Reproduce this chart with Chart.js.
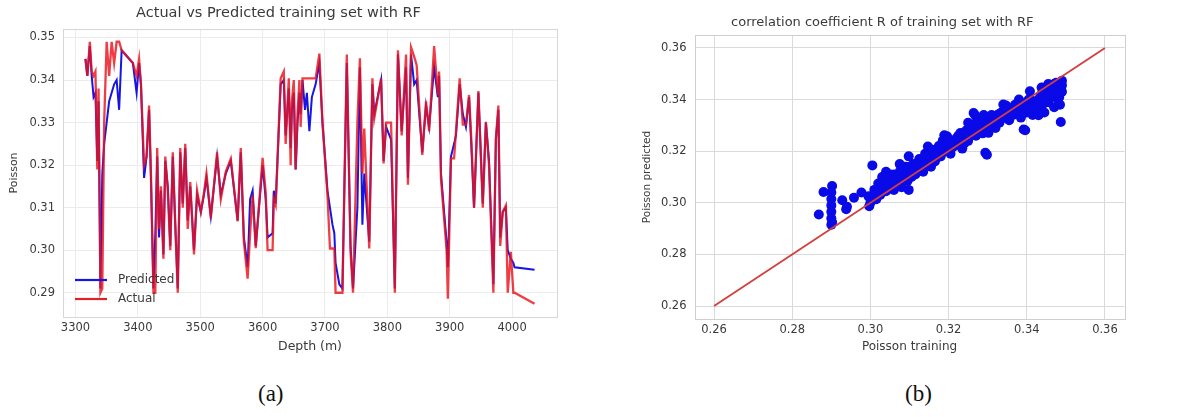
<!DOCTYPE html>
<html>
<head>
<meta charset="utf-8">
<script src="https://cdn.jsdelivr.net/npm/chart.js@4.4.1/dist/chart.umd.min.js"></script>
<style>
    body { margin: 0; background: #fff; width: 1179px; height: 417px; overflow: hidden; position: relative; }
    canvas { position: absolute; top: 0; }
    #left { left: 0; }
    #right { left: 600px; }
    .cap { position: absolute; top: 381px; font-family: "Liberation Serif", "Times New Roman", serif; font-size: 23px; color: #111; }
</style>
</head>
<body>
<canvas id="left" width="580" height="360"></canvas>
<canvas id="right" width="579" height="360"></canvas>
<div class="cap" style="left:258px">(a)</div>
<div class="cap" style="left:905px">(b)</div>
<script>
// depth (m) and Poisson values
const depth = [3316, 3319, 3323, 3326, 3329, 3332, 3335, 3337, 3340, 3343, 3346, 3350, 3354, 3358, 3362, 3366, 3370, 3374, 3392, 3398,
    3402, 3405, 3410, 3414, 3418, 3421, 3425, 3428, 3431, 3434, 3437, 3441, 3444, 3448, 3452, 3456, 3460, 3464, 3468, 3472,
    3476, 3480, 3484, 3490, 3495, 3501, 3506, 3510, 3517, 3527, 3533, 3541, 3549, 3560, 3565, 3570, 3576, 3580, 3584, 3589,
    3600, 3605, 3608, 3616, 3618, 3621, 3629, 3634, 3637, 3642, 3645, 3647, 3650, 3653, 3656, 3659, 3661, 3664, 3668, 3671,
    3675, 3679, 3685, 3691, 3696, 3704, 3708, 3712, 3715, 3717, 3723, 3728, 3735, 3741, 3745, 3752, 3756, 3760, 3763, 3771,
    3776, 3779, 3790, 3794, 3798, 3806, 3812, 3817, 3823, 3830, 3833, 3838, 3843, 3847, 3856, 3862, 3867, 3875, 3881, 3883,
    3886, 3891, 3895, 3897, 3902, 3907, 3910, 3916, 3921, 3926, 3931, 3935, 3939, 3946, 3953, 3958, 3963, 3970, 3974, 3978,
    3981, 3985, 3990, 3993, 3998, 4002, 4004, 4036];
const actual = [0.345, 0.341, 0.349, 0.342, 0.341, 0.342, 0.319, 0.338, 0.290, 0.291, 0.330, 0.349, 0.341, 0.349, 0.344, 0.349, 0.349, 0.347, 0.344, 0.341,
    0.345, 0.339, 0.320, 0.322, 0.334, 0.318, 0.290, 0.290, 0.324, 0.305, 0.315, 0.298, 0.322, 0.314, 0.300, 0.323, 0.306, 0.290, 0.324, 0.310,
    0.325, 0.305, 0.316, 0.299, 0.314, 0.309, 0.3135, 0.318, 0.3075, 0.323, 0.312, 0.3185, 0.3215, 0.3068, 0.324, 0.302, 0.2933, 0.304, 0.313, 0.3005,
    0.3217, 0.3135, 0.300, 0.300, 0.312, 0.3106, 0.3404, 0.342, 0.325, 0.3404, 0.320, 0.335, 0.340, 0.319, 0.332, 0.340, 0.329, 0.3404, 0.3404, 0.3404,
    0.3404, 0.3404, 0.3404, 0.3462, 0.330, 0.313, 0.3004, 0.3004, 0.3004, 0.290, 0.290, 0.290, 0.346, 0.2996, 0.290, 0.330, 0.3451, 0.318, 0.3286, 0.3004,
    0.3404, 0.331, 0.3404, 0.3204, 0.330, 0.330, 0.290, 0.347, 0.327, 0.346, 0.3154, 0.3477, 0.3455, 0.3435, 0.3224, 0.335, 0.328, 0.348, 0.3365, 0.342,
    0.3168, 0.3075, 0.300, 0.2886, 0.3216, 0.3216, 0.3278, 0.3404, 0.3295, 0.3295, 0.3365, 0.325, 0.310, 0.3374, 0.310, 0.3302, 0.320, 0.290, 0.3263, 0.334,
    0.301, 0.309, 0.3105, 0.290, 0.2996, 0.290, 0.290, 0.2874];
const predicted = [0.345, 0.341, 0.348, 0.341, 0.336, 0.337, 0.321, 0.335, 0.291, 0.318, 0.325, 0.330, 0.335, 0.337, 0.339, 0.340, 0.333, 0.347, 0.344, 0.337,
    0.344, 0.339, 0.317, 0.322, 0.333, 0.317, 0.291, 0.304, 0.322, 0.303, 0.314, 0.299, 0.321, 0.315, 0.301, 0.322, 0.306, 0.291, 0.323, 0.311,
    0.324, 0.307, 0.315, 0.300, 0.313, 0.309, 0.313, 0.317, 0.308, 0.322, 0.313, 0.318, 0.321, 0.307, 0.323, 0.303, 0.296, 0.312, 0.314, 0.301,
    0.320, 0.312, 0.303, 0.304, 0.314, 0.311, 0.339, 0.340, 0.327, 0.338, 0.324, 0.333, 0.337, 0.319, 0.330, 0.337, 0.332, 0.340, 0.333, 0.337,
    0.328, 0.336, 0.339, 0.344, 0.330, 0.314, 0.310, 0.306, 0.304, 0.297, 0.292, 0.291, 0.344, 0.301, 0.291, 0.310, 0.343, 0.306, 0.318, 0.302,
    0.339, 0.332, 0.340, 0.321, 0.329, 0.326, 0.291, 0.346, 0.328, 0.343, 0.317, 0.346, 0.339, 0.340, 0.323, 0.334, 0.329, 0.343, 0.336, 0.341,
    0.318, 0.309, 0.302, 0.296, 0.322, 0.325, 0.327, 0.339, 0.332, 0.329, 0.336, 0.3235, 0.310, 0.337, 0.311, 0.330, 0.321, 0.292, 0.326, 0.333,
    0.303, 0.309, 0.310, 0.300, 0.298, 0.297, 0.296, 0.2954];
const depthTicks = [3300, 3400, 3500, 3600, 3700, 3800, 3900, 4000];
const poissonTicks = [0.29, 0.30, 0.31, 0.32, 0.33, 0.34, 0.35];

// panel (b): training value vs predicted value
const trainX = [0.2868, 0.2880, 0.2902, 0.2900, 0.2900, 0.2900, 0.2900, 0.2900, 0.2900, 0.2902,
    0.2928, 0.2938, 0.2940, 0.2958, 0.2977, 0.2997, 0.3000, 0.2995, 0.3005, 0.3010,
    0.3015, 0.3020, 0.3025, 0.3030, 0.3035, 0.3040, 0.3045, 0.3050, 0.3055, 0.3060,
    0.3065, 0.3070, 0.3075, 0.3080, 0.3085, 0.3090, 0.3095, 0.3098, 0.3098, 0.3100,
    0.3105, 0.3110, 0.3115, 0.3121, 0.3125, 0.3130, 0.3135, 0.3140, 0.3147, 0.3150,
    0.3155, 0.3158, 0.3160, 0.3165, 0.3170, 0.3175, 0.3180, 0.3185, 0.3189, 0.3190,
    0.3196, 0.3200, 0.3205, 0.3210, 0.3215, 0.3219, 0.3225, 0.3230, 0.3235, 0.3240,
    0.3245, 0.3250, 0.3255, 0.3260, 0.3264, 0.3268, 0.3270, 0.3275, 0.3280, 0.3287,
    0.3290, 0.3294, 0.3298, 0.3300, 0.3302, 0.3310, 0.3315, 0.3320, 0.3325, 0.3330,
    0.3335, 0.3340, 0.3345, 0.3347, 0.3350, 0.3355, 0.3360, 0.3365, 0.3370, 0.3375,
    0.3380, 0.3385, 0.3390, 0.3392, 0.3396, 0.3400, 0.3405, 0.3408, 0.3410, 0.3415,
    0.3420, 0.3425, 0.3430, 0.3435, 0.3438, 0.3440, 0.3445, 0.3450, 0.3455, 0.3460,
    0.3465, 0.3470, 0.3475, 0.3480, 0.3483, 0.3483, 0.3487, 0.3487, 0.3490, 0.3490, 0.3485,
    0.3010, 0.3020, 0.3040, 0.3050, 0.3060, 0.3070, 0.3080, 0.3090, 0.3100, 0.3110,
    0.3120, 0.3130, 0.3140, 0.3150, 0.3160, 0.3170, 0.3180, 0.3190, 0.3200, 0.3210,
    0.3220, 0.3230, 0.3240, 0.3250, 0.3260, 0.3270, 0.3280, 0.3290, 0.3300, 0.3310,
    0.3320, 0.3330, 0.3340, 0.3350, 0.3360, 0.3370, 0.3380, 0.3390, 0.3400, 0.3410,
    0.3420, 0.3430, 0.3440, 0.3450, 0.3460, 0.3470, 0.3480, 0.3490, 0.3475, 0.3455,
    0.3040, 0.3075, 0.3250, 0.3290];
const predY = [0.2955, 0.3042, 0.3065, 0.3040, 0.3015, 0.2990, 0.2965, 0.2940, 0.2915, 0.2925,
    0.3010, 0.2975, 0.2985, 0.3020, 0.3040, 0.2987, 0.3000, 0.3025, 0.3145, 0.3050,
    0.3014, 0.3075, 0.3030, 0.3100, 0.3060, 0.3045, 0.3085, 0.3110, 0.3070, 0.3050,
    0.3095, 0.3080, 0.3120, 0.3060, 0.3100, 0.3140, 0.3085, 0.3180, 0.3050, 0.3120,
    0.3100, 0.3150, 0.3110, 0.3129, 0.3170, 0.3140, 0.3120, 0.3190, 0.3218, 0.3160,
    0.3140, 0.3206, 0.3180, 0.3160, 0.3200, 0.3220, 0.3180, 0.3240, 0.3262, 0.3200,
    0.3258, 0.3220, 0.3190, 0.3240, 0.3220, 0.3232, 0.3260, 0.3230, 0.3210, 0.3250,
    0.3280, 0.3240, 0.3270, 0.3300, 0.3348, 0.3339, 0.3260, 0.3290, 0.3310, 0.3269,
    0.3300, 0.3194, 0.3186, 0.3320, 0.3271, 0.3300, 0.3330, 0.3290, 0.3340, 0.3310,
    0.3350, 0.3381, 0.3330, 0.3377, 0.3350, 0.3320, 0.3360, 0.3340, 0.3380, 0.3350,
    0.3400, 0.3330, 0.3370, 0.3284, 0.3281, 0.3350, 0.3400, 0.3432, 0.3370, 0.3340,
    0.3390, 0.3360, 0.3339, 0.3410, 0.3447, 0.3380, 0.3350, 0.3420, 0.3390, 0.3450,
    0.3410, 0.3370, 0.3440, 0.3400, 0.3460, 0.3409, 0.3313, 0.3465, 0.3473, 0.3430, 0.3380,
    0.3030, 0.3055, 0.3070, 0.3090, 0.3110, 0.3065, 0.3095, 0.3110, 0.3140, 0.3125,
    0.3155, 0.3165, 0.3150, 0.3185, 0.3200, 0.3175, 0.3215, 0.3230, 0.3245, 0.3215,
    0.3250, 0.3270, 0.3230, 0.3265, 0.3280, 0.3310, 0.3285, 0.3325, 0.3295, 0.3340,
    0.3320, 0.3345, 0.3330, 0.3370, 0.3345, 0.3360, 0.3375, 0.3350, 0.3390, 0.3400,
    0.3370, 0.3400, 0.3430, 0.3400, 0.3420, 0.3460, 0.3440, 0.3455, 0.3465, 0.3460,
    0.3120, 0.3150, 0.3310, 0.3340];
const fitX = [0.26, 0.36];
const fitY = [0.26, 0.36];
const rTicks = [0.26, 0.28, 0.30, 0.32, 0.34, 0.36];

const TEXT = '#3a3a3a';
const FONT = '"DejaVu Sans", Verdana, sans-serif';

// light frame round the plot area, like the seaborn whitegrid style
const framePlugin = {
    id: 'frame',
    beforeDatasetsDraw(chart, args, opts) {
        const a = chart.chartArea;
        const ctx = chart.ctx;
        ctx.save();
        ctx.strokeStyle = opts.color;
        ctx.lineWidth = 1;
        ctx.strokeRect(Math.round(a.left) + 0.5, Math.round(a.top) + 0.5, Math.round(a.right - a.left), Math.round(a.bottom - a.top));
        ctx.restore();
    }
};

// legend sits inside the plot, lower left
const innerLegend = {
    id: 'innerLegend',
    afterDatasetsDraw(chart) {
        const a = chart.chartArea;
        const ctx = chart.ctx;
        const rows = [['Predicted', '#1515e6', 37], ['Actual', '#e0202a', 18]];
        ctx.save();
        ctx.font = `12px ${FONT}`;
        ctx.textBaseline = 'middle';
        for (const [label, color, up] of rows) {
            const y = a.bottom - up;
            ctx.strokeStyle = color;
            ctx.lineWidth = 2.2;
            ctx.beginPath();
            ctx.moveTo(a.left + 12, y);
            ctx.lineTo(a.left + 44, y);
            ctx.stroke();
            ctx.fillStyle = TEXT;
            ctx.fillText(label, a.left + 55, y);
        }
        ctx.restore();
    }
};

const fixedTicks = (list) => (axis) => { axis.ticks = list.map(v => ({ value: v })); };

new Chart(document.getElementById('left'), {
    type: 'line',
    data: {
        datasets: [
            {
                label: 'Predicted',
                data: depth.map((d, i) => ({ x: d, y: predicted[i] })),
                borderColor: '#1515e6',
                borderWidth: 2,
                pointRadius: 0,
                tension: 0,
                order: 1
            },
            {
                label: 'Actual',
                data: depth.map((d, i) => ({ x: d, y: actual[i] })),
                borderColor: 'rgba(235, 18, 28, 0.82)',
                borderWidth: 2.3,
                pointRadius: 0,
                tension: 0,
                order: 0
            }
        ]
    },
    options: {
        responsive: false,
        animation: false,
        layout: { padding: { left: 0, right: 23, top: 0, bottom: 0 } },
        plugins: {
            legend: { display: false },
            tooltip: { enabled: false },
            title: {
                display: true,
                text: 'Actual vs Predicted training set with RF',
                color: TEXT,
                font: { family: FONT, size: 14.5, weight: 'normal' },
                padding: { top: 5, bottom: 6.6 }
            },
            frame: { color: '#d6d6d6' }
        },
        scales: {
            x: {
                type: 'linear',
                min: 3280,
                max: 4072,
                afterBuildTicks: fixedTicks(depthTicks),
                afterFit: (s) => { s.height = 43; },
                grid: { color: '#ececec', drawTicks: false },
                border: { display: false },
                ticks: { color: TEXT, padding: 4, font: { family: FONT, size: 11.5 }, callback: (v) => String(v) },
                title: { display: true, text: 'Depth (m)', color: TEXT, font: { family: FONT, size: 12.5 }, padding: { top: 0, bottom: 6 } }
            },
            y: {
                min: 0.2843,
                max: 0.352,
                afterBuildTicks: fixedTicks(poissonTicks),
                afterFit: (s) => { s.width = 63; },
                grid: { color: '#ececec', drawTicks: false },
                border: { display: false },
                ticks: { color: TEXT, padding: 8, font: { family: FONT, size: 11.5 }, callback: (v) => v.toFixed(2) },
                title: { display: true, text: 'Poisson', color: TEXT, font: { family: FONT, size: 11 }, padding: { top: 8, bottom: 0 } }
            }
        }
    },
    plugins: [framePlugin, innerLegend]
});

new Chart(document.getElementById('right'), {
    type: 'scatter',
    data: {
        datasets: [
            {
                type: 'line',
                label: 'fit',
                data: fitX.map((x, i) => ({ x, y: fitY[i] })),
                borderColor: '#d13f3f',
                borderWidth: 1.8,
                pointRadius: 0,
                order: 0
            },
            {
                label: 'points',
                data: trainX.map((x, i) => ({ x, y: predY[i] })),
                backgroundColor: '#0a0ae8',
                borderWidth: 0,
                pointRadius: 5,
                order: 1
            }
        ]
    },
    options: {
        responsive: false,
        animation: false,
        layout: { padding: { left: 40, right: 54.5, top: 10, bottom: 0 } },
        plugins: {
            legend: { display: false },
            tooltip: { enabled: false },
            title: {
                display: true,
                text: 'correlation coefficient R of training set with RF',
                color: TEXT,
                font: { family: FONT, size: 13, weight: 'normal' },
                padding: { top: 4.4, bottom: 5 }
            },
            frame: { color: '#cfcfcf' }
        },
        scales: {
            x: {
                type: 'linear',
                min: 0.255,
                max: 0.365,
                afterBuildTicks: fixedTicks(rTicks),
                afterFit: (s) => { s.height = 41; },
                grid: { color: '#dadada', drawTicks: false },
                border: { display: false },
                ticks: { color: TEXT, padding: 4, font: { family: FONT, size: 11.5 }, callback: (v) => v.toFixed(2) },
                title: { display: true, text: 'Poisson training', color: TEXT, font: { family: FONT, size: 12 }, padding: { top: 0, bottom: 6 } }
            },
            y: {
                min: 0.255,
                max: 0.365,
                afterBuildTicks: fixedTicks(rTicks),
                afterFit: (s) => { s.width = 54.5; },
                grid: { color: '#dadada', drawTicks: false },
                border: { display: false },
                ticks: { color: TEXT, padding: 8, font: { family: FONT, size: 11.5 }, callback: (v) => v.toFixed(2) },
                title: { display: true, text: 'Poisson predicted', color: TEXT, font: { family: FONT, size: 10.5 }, padding: { top: 1, bottom: 0 } }
            }
        }
    },
    plugins: [framePlugin]
});
</script>
</body>
</html>
